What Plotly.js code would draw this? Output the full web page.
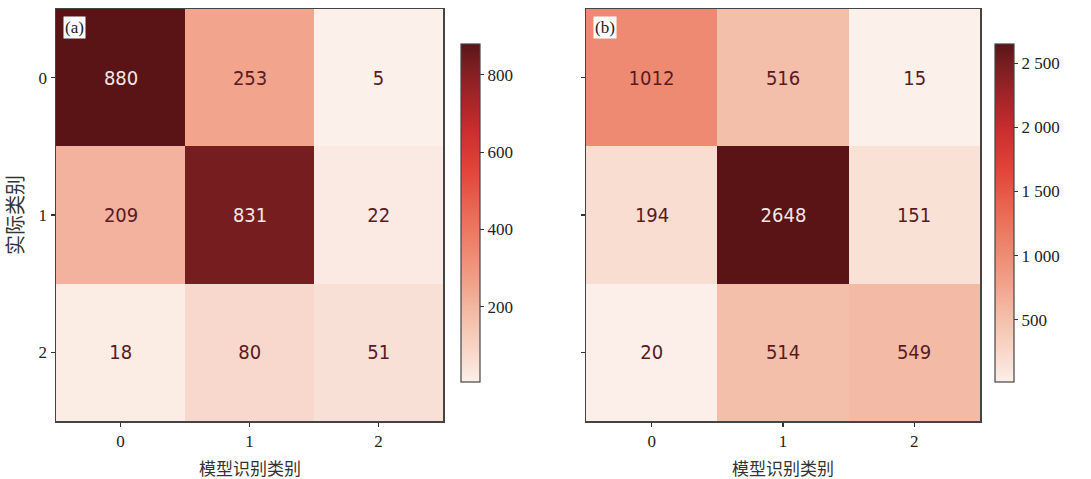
<!DOCTYPE html>
<html>
<head>
<meta charset="utf-8">
<script src="https://cdn.plot.ly/plotly-3.0.1.min.js"></script>
<style>
  html, body { margin: 0; padding: 0; background: #ffffff; }
  #chart { width: 1091px; height: 479px; }
  /* narrow face for the cell counts */
  #chart g.annotation text { font-stretch: condensed; }
</style>
</head>
<body>
<div id="chart"></div>
<script>
// Class labels (rows: actual class, columns: predicted class)
const classes = [0, 1, 2];

// Confusion matrix counts, panel (a)
const countsA = [
  [880, 253, 5],
  [209, 831, 22],
  [18, 80, 51]
];

// Confusion matrix counts, panel (b)
const countsB = [
  [1012, 516, 15],
  [194, 2648, 151],
  [20, 514, 549]
];

// Colour bar ticks
const cbTicksA = [200, 400, 600, 800];
const cbLabelsA = ['200', '400', '600', '800'];
const cbTicksB = [500, 1000, 1500, 2000, 2500];
const cbLabelsB = ['500', '1 000', '1 500', '2 000', '2 500'];

const panelLabels = ['(a)', '(b)'];
const xTitle = '模型识别类别';
const yTitle = '实际类别';

// Sequential red palette, light cream to deep maroon
const redScale = [
  [0.00, '#fcf0ea'],
  [0.05, '#f9e1d7'],
  [0.10, '#f8d5c7'],
  [0.20, '#f3bca7'],
  [0.28, '#f2a58e'],
  [0.38, '#ef8a72'],
  [0.50, '#eb6a55'],
  [0.62, '#e4463a'],
  [0.75, '#c92c2d'],
  [0.85, '#a12328'],
  [0.94, '#781e20'],
  [1.00, '#5a1416']
];

const serif = '"Liberation Serif", "Times New Roman", serif';
const cjk = '"Noto Sans CJK SC", "Noto Sans", sans-serif';
const numFont = '"DejaVu Sans", sans-serif';

function heat(z, xa, ya, cbX, ticks, labels) {
  const flat = z.flat();
  return {
    type: 'heatmap',
    z: z, x: classes, y: classes,
    xaxis: xa, yaxis: ya,
    colorscale: redScale,
    zmin: Math.min(...flat), zmax: Math.max(...flat),
    xgap: 0, ygap: 0,
    hoverinfo: 'z',
    colorbar: {
      x: cbX, xanchor: 'left', xref: 'paper',
      y: 1 - 213 / 479, yanchor: 'middle', yref: 'paper',
      len: 338, lenmode: 'pixels',
      thickness: 19, thicknessmode: 'pixels',
      outlinecolor: '#444', outlinewidth: 1.2,
      ticks: 'outside', ticklen: 4, tickcolor: '#333', tickwidth: 1,
      tickvals: ticks, ticktext: labels,
      tickfont: { family: serif, size: 17, color: '#222' },
      xpad: 0, ypad: 0
    }
  };
}

function cellLabels(z, xa, ya) {
  const flat = z.flat();
  const lo = Math.min(...flat), hi = Math.max(...flat);
  const out = [];
  z.forEach((row, r) => row.forEach((v, c) => {
    const t = (v - lo) / (hi - lo);
    out.push({
      x: classes[c], y: classes[r], xref: xa, yref: ya,
      text: String(v), showarrow: false,
      font: { family: numFont, size: 20, color: t > 0.7 ? '#f3e6e4' : '#5a1a22' }
    });
  }));
  return out;
}

const W = 1091, H = 479;
const plotTop = 1 - 9 / H, plotBottom = 1 - 421 / H;

const axisCommon = {
  range: [-0.5, 2.5],
  tickvals: classes,
  ticks: 'outside', ticklen: 4, tickwidth: 1.2, tickcolor: '#333',
  showline: true, linecolor: '#444', linewidth: 1.5, mirror: true,
  showgrid: false, zeroline: false,
  tickfont: { family: serif, size: 17, color: '#222' },
  automargin: false
};

const titleFont = { family: cjk, size: 17, color: '#333' };

// x-axis caption placed under each panel, centred on its axis domain
function xCaption(dom) {
  return {
    xref: 'paper', yref: 'paper',
    x: (dom[0] + dom[1]) / 2, y: 1 - 467 / H,
    xanchor: 'center', yanchor: 'middle',
    text: xTitle, showarrow: false, font: titleFont
  };
}

const domA = [56 / W, 443 / W];
const domB = [586 / W, 980 / W];

const layout = {
  width: W, height: H,
  margin: { l: 0, r: 0, t: 0, b: 0 },
  paper_bgcolor: '#ffffff', plot_bgcolor: '#ffffff',
  showlegend: false,
  xaxis: Object.assign({}, axisCommon, { domain: domA, anchor: 'y' }),
  yaxis: Object.assign({}, axisCommon, {
    domain: [plotBottom, plotTop], anchor: 'x',
    range: [2.5, -0.5],
    title: { text: yTitle, font: { family: cjk, size: 20, color: '#333' } }
  }),
  xaxis2: Object.assign({}, axisCommon, { domain: domB, anchor: 'y2' }),
  yaxis2: Object.assign({}, axisCommon, {
    domain: [plotBottom, plotTop], anchor: 'x2',
    range: [2.5, -0.5],
    showticklabels: false
  }),
  annotations: [
    ...cellLabels(countsA, 'x', 'y'),
    ...cellLabels(countsB, 'x2', 'y2'),
    xCaption(domA),
    xCaption(domB),
    {
      xref: 'paper', yref: 'paper', x: 63 / W, y: 1 - 16 / H,
      xanchor: 'left', yanchor: 'top', text: panelLabels[0], showarrow: false,
      bgcolor: '#ffffff', borderpad: 1,
      font: { family: serif, size: 17, color: '#222' }
    },
    {
      xref: 'paper', yref: 'paper', x: 593 / W, y: 1 - 16 / H,
      xanchor: 'left', yanchor: 'top', text: panelLabels[1], showarrow: false,
      bgcolor: '#ffffff', borderpad: 1,
      font: { family: serif, size: 17, color: '#222' }
    }
  ]
};

const data = [
  heat(countsA, 'x', 'y', 461 / W, cbTicksA, cbLabelsA),
  heat(countsB, 'x2', 'y2', 995 / W, cbTicksB, cbLabelsB)
];

Plotly.newPlot('chart', data, layout, { displayModeBar: false, staticPlot: true });
</script>
</body>
</html>
